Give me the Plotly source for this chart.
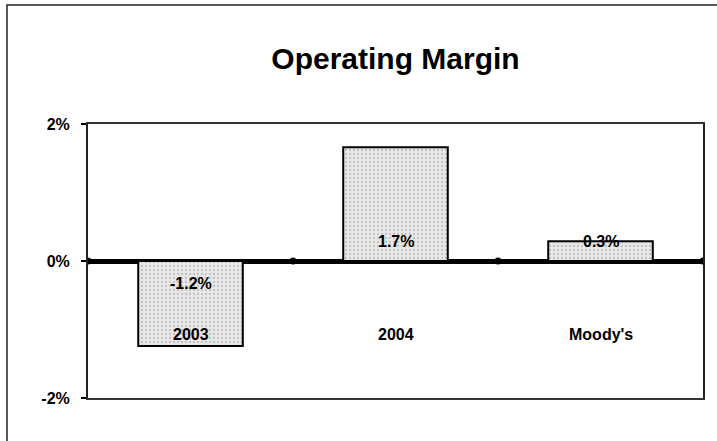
import plotly.graph_objects as go

categories = ["2003", "2004", "Moody's"]
margins = [-1.24, 1.66, 0.29]          # operating margin, %
value_labels = ["-1.2%", "1.7%", "0.3%"]
y_ticks = [-2, 0, 2]
y_tick_labels = ["-2%", "0%", "2%"]

FONT = "Liberation Sans, Arial, Helvetica, sans-serif"
W, H = 717, 441
ML, MR, MT, MB = 88, 14, 124, 43

x_pos = list(range(len(categories)))
boundaries = [i - 0.5 for i in range(len(categories) + 1)]

fig = go.Figure()
fig.add_trace(go.Bar(
    x=x_pos, y=margins, width=0.51,
    marker=dict(color="#e6e6e6",
                line=dict(color="black", width=2),
                pattern=dict(shape=".", fgcolor="#9a9a9a", bgcolor="#e8e8e8",
                             size=4, solidity=0.25)),
    hoverinfo="skip", showlegend=False,
))
fig.add_trace(go.Scatter(
    x=boundaries, y=[0] * len(boundaries), mode="markers",
    marker=dict(color="black", size=7, symbol="circle"),
    hoverinfo="skip", showlegend=False,
))

annotations = []
for xi, cat in zip(x_pos, categories):
    annotations.append(dict(x=xi, y=-1.08, xref="x", yref="y", text="<b>%s</b>" % cat,
                            showarrow=False, font=dict(family=FONT, size=16, color="black")))
for xi, v, lab in zip(x_pos, margins, value_labels):
    annotations.append(dict(x=xi, y=0, xref="x", yref="y", text="<b>%s</b>" % lab,
                            yshift=20 if v >= 0 else -22,
                            showarrow=False, font=dict(family=FONT, size=16, color="black")))

pw = W - ML - MR
ph = H - MT - MB
fig.update_layout(
    width=W, height=H,
    margin=dict(l=ML, r=MR, t=MT, b=MB),
    paper_bgcolor="white", plot_bgcolor="white",
    title=dict(text="<b>Operating Margin</b>", x=0.5, xref="paper", xanchor="center",
               y=1 - 58 / H, yanchor="middle",
               font=dict(family=FONT, size=30, color="black")),
    xaxis=dict(range=[-0.5, len(categories) - 0.5], showticklabels=False, ticks="",
               showgrid=False, zeroline=False, showline=True, mirror=True,
               linecolor="#333333", linewidth=1.5),
    yaxis=dict(range=[-2, 2], tickvals=y_ticks,
               ticktext=["<b>%s</b>" % t for t in y_tick_labels],
               tickfont=dict(family=FONT, size=16, color="black"),
               ticks="outside", ticklen=5, tickwidth=2, tickcolor="black",
               ticklabelstandoff=8,
               showgrid=False, zeroline=True, zerolinecolor="black", zerolinewidth=5,
               showline=True, mirror=True, linecolor="#222222", linewidth=2),
    annotations=annotations,
    shapes=[dict(type="rect", xref="paper", yref="paper",
                 x0=(7 - ML) / pw, x1=(W + 5 - ML) / pw,
                 y0=-(MB + 5) / ph, y1=1 + (MT - 5) / ph,
                 line=dict(color="#222222", width=1.5), fillcolor="rgba(0,0,0,0)",
                 layer="below")],
)

fig.write_html("out.html", config={"displayModeBar": False},
               post_script="document.body.style.margin='0';document.body.style.overflow='hidden';")
